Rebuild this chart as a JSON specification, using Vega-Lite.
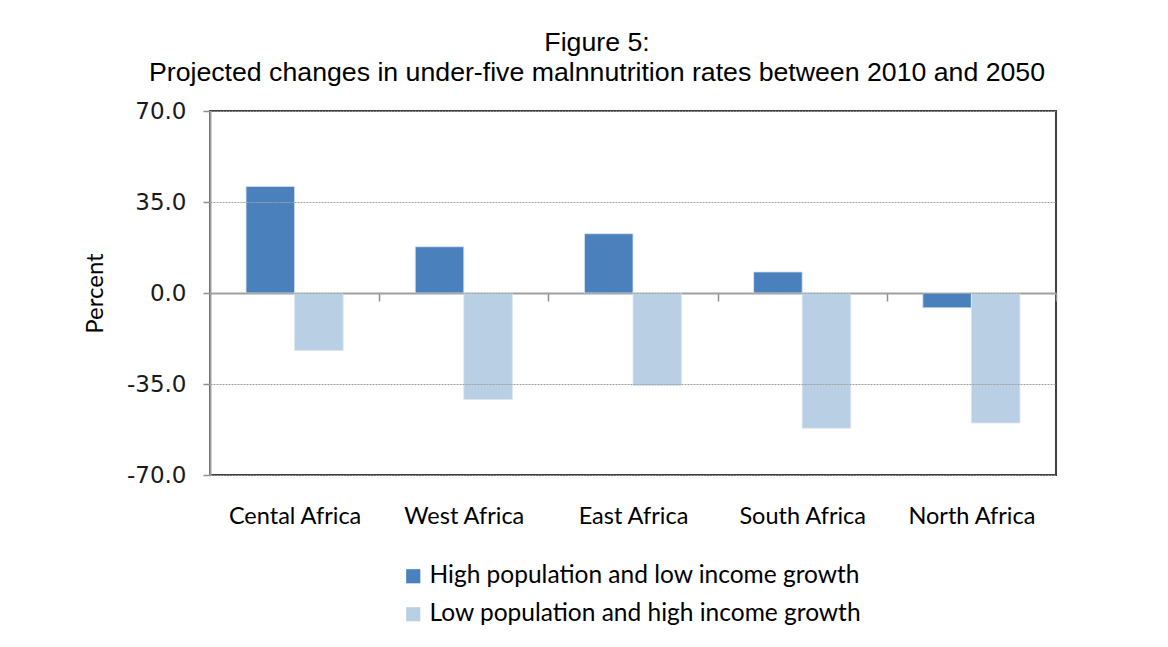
{
  "$schema": "https://vega.github.io/schema/vega-lite/v6.json",
  "autosize": "none",
  "width": 846,
  "height": 364,
  "padding": {"left": 210, "top": 111, "right": 112, "bottom": 172},
  "background": "white",
  "title": {
    "text": ["Figure 5:", "Projected changes in under-five malnnutrition rates between 2010 and 2050"],
    "font": "Liberation Sans",
    "fontSize": 26.7,
    "fontWeight": "normal",
    "color": "#000000",
    "lineHeight": 30,
    "anchor": "middle",
    "dx": -36,
    "offset": 13
  },
  "data": {
    "values": [
      {"region": "Cental Africa", "scenario": "High population and low income growth", "value": 41.0},
      {"region": "Cental Africa", "scenario": "Low population and high income growth", "value": -22.1},
      {"region": "West Africa", "scenario": "High population and low income growth", "value": 17.8},
      {"region": "West Africa", "scenario": "Low population and high income growth", "value": -41.0},
      {"region": "East Africa", "scenario": "High population and low income growth", "value": 22.8},
      {"region": "East Africa", "scenario": "Low population and high income growth", "value": -35.6},
      {"region": "South Africa", "scenario": "High population and low income growth", "value": 8.1},
      {"region": "South Africa", "scenario": "Low population and high income growth", "value": -52.0},
      {"region": "North Africa", "scenario": "High population and low income growth", "value": -5.7},
      {"region": "North Africa", "scenario": "Low population and high income growth", "value": -50.0}
    ]
  },
  "mark": {"type": "bar", "stroke": "#dbe6f2", "strokeWidth": 0.8},
  "encoding": {
    "x": {
      "field": "region",
      "type": "nominal",
      "sort": null,
      "title": null,
      "scale": {"paddingInner": 0.426, "paddingOuter": 0.213},
      "axis": {
        "orient": "bottom",
        "offset": -182,
        "domainColor": "#a0a0a0",
        "domainWidth": 2,
        "tickOffset": 84.6,
        "labelOffset": -84.6,
        "tickColor": "#909090",
        "tickSize": 8,
        "tickWidth": 1.5,
        "labelPadding": 203,
        "labelAngle": 0,
        "labelFont": "Lato",
        "labelFontSize": 23.5,
        "labelColor": "#000000",
        "grid": false
      }
    },
    "xOffset": {
      "field": "scenario",
      "type": "nominal",
      "scale": {"paddingInner": 0, "paddingOuter": 0}
    },
    "y": {
      "field": "value",
      "type": "quantitative",
      "title": "Percent",
      "scale": {"domain": [-70, 70], "nice": false, "zero": true},
      "axis": {
        "values": [-70, -35, 0, 35, 70],
        "labelExpr": "replace(format(datum.value, '.1f'), '\u2212', '-')",
        "labelFont": "DejaVu Sans",
        "labelFontSize": 23,
        "labelColor": "#1a1a1a",
        "labelPadding": 17,
        "tickSize": 7,
        "tickColor": "#909090",
        "tickWidth": 1.5,
        "domainColor": "#a0a0a0",
        "domainWidth": 2,
        "zindex": 1,
        "grid": true,
        "gridColor": "#a0a0a0",
        "gridDash": [2, 1],
        "gridWidth": 1,
        "titleFont": "Lato",
        "titleFontSize": 24,
        "titleFontWeight": "normal",
        "titleColor": "#000000",
        "titleX": -115,
        "titleY": 182,
        "titleAngle": 270,
        "titleAlign": "center",
        "titleBaseline": "middle"
      }
    },
    "color": {
      "field": "scenario",
      "type": "nominal",
      "title": null,
      "scale": {
        "domain": ["High population and low income growth", "Low population and high income growth"],
        "range": ["#4a81bd", "#b9cfe4"]
      },
      "legend": {
        "orient": "none",
        "legendX": 191,
        "legendY": 453,
        "direction": "vertical",
        "symbolType": "square",
        "symbolSize": 200,
        "symbolStrokeWidth": 0,
        "labelFont": "Lato",
        "labelFontSize": 24.5,
        "labelColor": "#000000",
        "labelOffset": 4,
        "rowPadding": 13,
        "labelLimit": 600
      }
    }
  },
  "config": {
    "view": {"stroke": "#404040", "strokeWidth": 2}
  }
}
